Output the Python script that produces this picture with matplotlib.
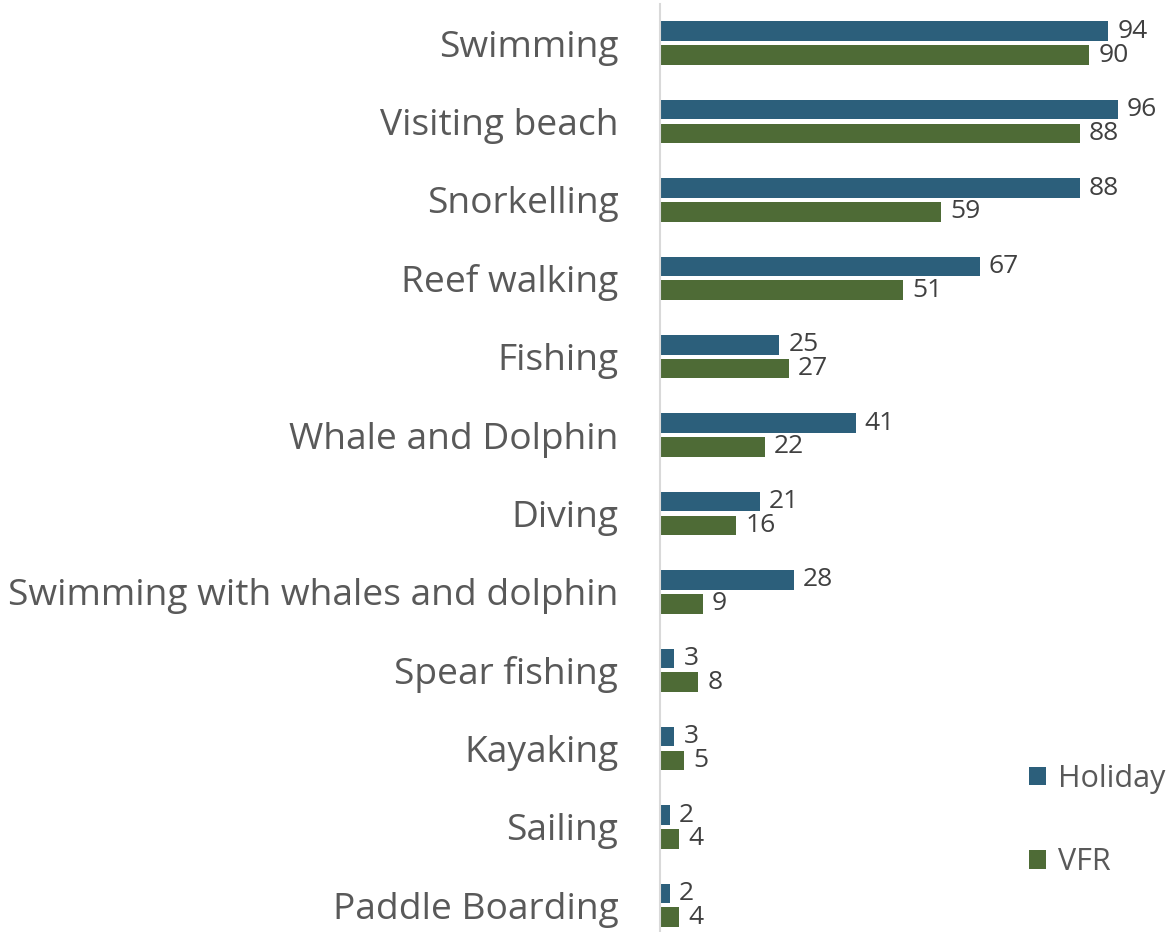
import matplotlib.pyplot as plt
import numpy as np

plt.rcParams['font.family'] = ['Open Sans', 'DejaVu Sans']

# Share of visitors taking part in each activity (%)
activities = ['Swimming', 'Visiting beach', 'Snorkelling', 'Reef walking', 'Fishing',
              'Whale and Dolphin', 'Diving', 'Swimming with whales and dolphin',
              'Spear fishing', 'Kayaking', 'Sailing', 'Paddle Boarding']
holiday = [94, 96, 88, 67, 25, 41, 21, 28, 3, 3, 2, 2]
vfr = [90, 88, 59, 51, 27, 22, 16, 9, 8, 5, 4, 4]

blue = '#2C5F7B'
green = '#4E6B36'

W, H = 1171, 932
fig = plt.figure(figsize=(W / 100, H / 100), dpi=100)
left_px, top_px = 660, 4
ax = fig.add_axes([left_px / W, 0, 1 - left_px / W, 1 - top_px / H])

y = np.arange(len(activities))
bh = 0.25
off = 0.152
hb = ax.barh(y - off, holiday, height=bh, color=blue, label='Holiday')
vb = ax.barh(y + off, vfr, height=bh, color=green, label='VFR')

for bars, vals in ((hb, holiday), (vb, vfr)):
    for b, v in zip(bars, vals):
        ax.annotate(str(v), (b.get_width(), b.get_y() + b.get_height() / 2),
                    xytext=(6.5, 0), textcoords='offset points',
                    ha='left', va='center', fontsize=19, color='#404040')

ax.set_xlim(0, (W - left_px) / 4.77)
ax.set_ylim(11.34, -0.5)
ax.set_yticks(y)
ax.set_yticklabels(activities, fontsize=26.7, color='#595959')
ax.tick_params(axis='y', length=0, pad=30)
ax.set_xticks([])
for s in ('top', 'right', 'bottom'):
    ax.spines[s].set_visible(False)
ax.spines['left'].set_color('#D9D9D9')
ax.spines['left'].set_linewidth(1.5)

ax.legend(loc='upper left', bbox_to_anchor=((1029 - left_px) / (W - left_px), 1 - 760 / 928),
          frameon=False, fontsize=22, labelcolor='#595959',
          handlelength=0.55, handleheight=0.55, handletextpad=0.4,
          labelspacing=1.75, borderpad=0, borderaxespad=0)

fig.savefig('out.png', dpi=100)
